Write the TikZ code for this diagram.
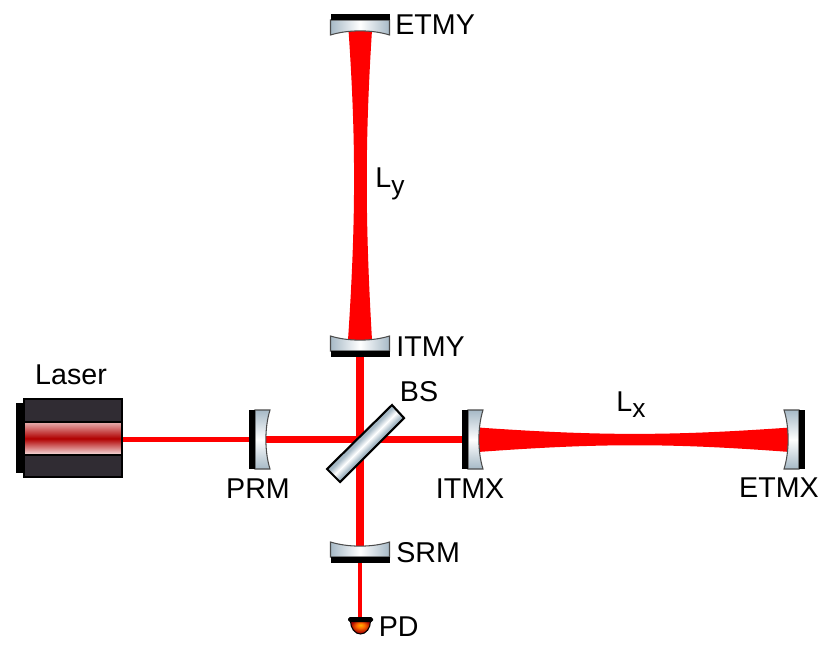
\documentclass[tikz,border=0pt]{standalone}
\usepackage{fontspec}
\setmainfont{Liberation Sans}
\definecolor{glassedge}{HTML}{A6B9C6}
\definecolor{laserdark}{HTML}{302C33}
\definecolor{tubetop}{HTML}{E8B0B0}
\definecolor{tubemid}{HTML}{B00000}
\definecolor{tubebot}{HTML}{F7E4E4}
\pgfdeclareverticalshading{bsglass}{100bp}{color(0bp)=(glassedge); color(45.9bp)=(glassedge); color(50bp)=(white); color(54.1bp)=(glassedge); color(100bp)=(glassedge)}
\pgfdeclareradialshading{pdglow}{\pgfpoint{0bp}{10bp}}{color(0bp)=(orange!60!yellow); color(10bp)=(orange!85!red); color(25bp)=(red!65!black); color(50bp)=(red!65!black)}
\tikzset{
    beamthin/.style={draw=red,line width=2.4pt},
    beamwide/.style={draw=red,line width=4.5pt},
    beamarm/.style={fill=red},
    glass/.style={top color=glassedge,bottom color=glassedge,middle color=white},
    lbl/.style={inner sep=0pt,font=\fontsize{16.3}{18}\selectfont},
    pics/mirror/.style={code={
        \path [glass,shading angle=#1,draw=black!70,line width=0.6pt]
            (-29.5,-15) .. controls (-12,-9.5) and (12,-9.5) .. (29.5,-15) -- (29.5,0) -- (-29.5,0) -- cycle;
        \fill [black] (-29.5,0) rectangle (29.5,6);
    }}
}
\begin{document}
\begin{tikzpicture}[x=0.02cm,y=-0.02cm]
    \useasboundingbox (0,0) rectangle (830,648);
    % anchor points
    \coordinate (laser) at (122,439.5);
    \coordinate (prm) at (255,439.5);
    \coordinate (bs) at (360,439.5);
    \coordinate (itmx) at (468,439.5);
    \coordinate (etmx) at (799,439.5);
    \coordinate (itmy) at (360,351);
    \coordinate (etmy) at (360,20);
    \coordinate (srm) at (360,557);
    \coordinate (pd) at (360,622);
    % beams
    \draw [beamthin] (laser) -- (prm);
    \draw [beamwide] (prm) -- (itmx);
    \draw [beamwide] (itmy) -- (srm);
    \draw [beamthin] (srm) -- (pd);
    \fill [beamarm] (348,340) .. controls (356,220) and (356,140) .. (348.5,30)
        -- (372,30) .. controls (365,140) and (365,220) .. (372,340) -- cycle;
    \fill [beamarm] (478,427.5) .. controls (600,436) and (670,436) .. (790,427.5)
        -- (790,452) .. controls (670,443) and (600,443) .. (478,452) -- cycle;
    % laser
    \fill [black] (16,403) rectangle (24,473);
    \draw [fill=laserdark,draw=black,line width=0.7pt] (24,399) rectangle (122,477);
    \path [top color=tubetop,bottom color=tubebot,middle color=tubemid,draw=black,line width=0.7pt] (24,422) rectangle (122,455);
    % mirrors
    \pic at (prm) [rotate=-90] {mirror=0};
    \pic at (itmx) [rotate=-90] {mirror=0};
    \pic at (etmx) [rotate=90] {mirror=0};
    \pic at (itmy) {mirror=90};
    \pic at (etmy) [rotate=180] {mirror=90};
    \pic at (srm) {mirror=90};
    % beam splitter
    \path [shading=bsglass,shading angle=45,draw=black,line width=1.2pt]
        (392,405) -- (404,418) -- (340,482) -- (327,469) -- cycle;
    % photodiode
    \path [shading=pdglow,draw=black,line width=0.6pt]
        (350.5,621) arc (180:0:10 and 13) -- cycle;
    \fill [black,rounded corners=1pt] (348,617) rectangle (373,622);
    % labels
    \node [lbl,anchor=west] (etmylbl) at (395,25) {ETMY};
    \node [lbl,anchor=west] (itmylbl) at (396,347) {ITMY};
    \node [lbl,anchor=west] (srmlbl) at (396,553) {SRM};
    \node [lbl,anchor=west] (pdlbl) at (378.5,627) {PD};
    \node [lbl] (bslbl) at (419,392) {BS};
    \node [lbl] (laserlbl) at (71,375) {Laser};
    \node [lbl] (prmlbl) at (258,489) {PRM};
    \node [lbl] (itmxlbl) at (470,489) {ITMX};
    \node [lbl] (etmxlbl) at (779,488) {ETMX};
    \node [lbl,anchor=base west] (lylbl) at (375,188) {L\raisebox{-0.45ex}{\fontsize{15}{16}\selectfont y}};
    \node [lbl,anchor=base west] (lxlbl) at (616,411) {L\raisebox{-0.45ex}{\fontsize{15}{16}\selectfont x}};
\end{tikzpicture}
\end{document}
